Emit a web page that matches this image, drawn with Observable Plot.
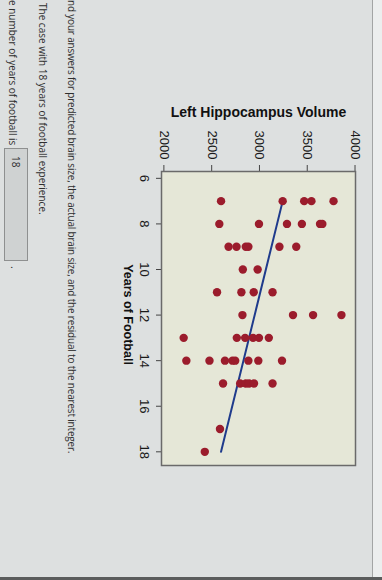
<!DOCTYPE html>
<html>
<head>
<meta charset="utf-8">
<script src="https://cdn.jsdelivr.net/npm/d3@7"></script>
<script src="https://cdn.jsdelivr.net/npm/@observablehq/plot@0.6"></script>
<style>
html, body { margin: 0; padding: 0; width: 382px; height: 580px; overflow: hidden; background: #dde0e0; }
#rot { position: absolute; left: 382px; top: 0; width: 580px; height: 382px; transform-origin: 0 0; transform: rotate(90deg); }
#chart { position: absolute; left: 0; top: 0; }
.q { position: absolute; font-family: "Open Sans", sans-serif; font-size: 10px; line-height: 14px; color: #2e2e2e; white-space: nowrap; }
#edge { position: absolute; left: 0; top: 0; width: 580px; height: 9px; background: #eceeee; border-bottom: 1px solid #a3a5a5; }
#bottomline { position: absolute; left: 577px; top: 0; width: 3px; height: 382px; background: #5a5c5c; }
#box { position: absolute; left: 148px; top: 354px; width: 104px; height: 22px; background: #cfd2d2; border: 1px solid #8e9090; font-family: "Open Sans", sans-serif; font-size: 10px; line-height: 22px; padding-left: 7px; color: #2e2e2e; }
</style>
</head>
<body>
<div id="rot">
  <div id="edge"></div>
  <div id="chart"></div>
  <div class="q" style="left:0px; top:303px; letter-spacing:-0.19px;">nd your answers for predicted brain size, the actual brain size, and the residual to the nearest integer.</div>
  <div class="q" style="left:3px; top:332px;">The case with 18 years of football experience.</div>
  <div class="q" style="left:0px; top:362px;">e number of years of football is</div>
  <div id="box">18</div>
  <div class="q" style="left:266px; top:360px;">.</div>
  <div id="bottomline"></div>
</div>
<script>
const pointYears = [
  7, 7, 7, 7, 7,
  8, 8, 8, 8, 8, 8,
  9, 9, 9, 9, 9, 9,
  10, 10,
  11, 11, 11, 11,
  12, 12, 12, 12,
  13, 13, 13, 13, 13, 13,
  14, 14, 14, 14, 14, 14, 14, 14,
  15, 15, 15, 15, 15, 15,
  17,
  18
];
const pointVolumes = [
  2598, 3243, 3468, 3544, 3775,
  2580, 2995, 3288, 3444, 3634, 3658,
  2677, 2760, 2857, 2884, 3209, 3385,
  2826, 2981,
  2556, 2811, 2940, 3137,
  2822, 3351, 3561, 3858,
  2207, 2763, 2850, 2933, 2995, 3098,
  2235, 2477, 2639, 2718, 2746, 2884, 2988, 3236,
  2619, 2798, 2857, 2891, 2943, 3137,
  2587,
  2428
];
const fitYears = [7, 18];
const fitVolumes = [3243, 2598];
const xTicks = [6, 8, 10, 12, 14, 16, 18];
const yTicks = [2000, 2500, 3000, 3500, 4000];
const xTitle = "Years of Football";
const yTitle = "Left Hippocampus Volume";

const points = pointYears.map((yr, i) => ({year: yr, volume: pointVolumes[i]}));
const fit = fitYears.map((yr, i) => ({year: yr, volume: fitVolumes[i]}));

const chart = Plot.plot({
  width: 580,
  height: 270,
  marginTop: 26,
  marginBottom: 50,
  marginLeft: 171,
  marginRight: 115,
  x: {domain: [5.7, 18.6], label: null},
  y: {domain: [1975, 4005], label: null},
  style: {fontFamily: "'Liberation Sans', Arial, sans-serif", fontSize: "13px", color: "#1a1a1a", background: "transparent", overflow: "visible"},
  marks: [
    Plot.frame({fill: "#e5e7d7", stroke: null}),
    Plot.axisX({ticks: xTicks, tickSize: 6, tickPadding: 6, tickFormat: d => String(d), label: null, fontSize: 13, stroke: "#444"}),
    Plot.axisY({ticks: yTicks, tickSize: 6, tickPadding: 6, tickFormat: d => String(d), label: null, fontSize: 13, stroke: "#444"}),
    Plot.line(fit, {x: "year", y: "volume", stroke: "#1f3b8c", strokeWidth: 2}),
    Plot.dot(points, {x: "year", y: "volume", r: 4.2, fill: "#9b1c2c", stroke: null}),
    Plot.frame({stroke: "#6a6a6a", strokeWidth: 1.5}),
    Plot.text([yTitle], {frameAnchor: "left", rotate: -90, dx: -59, textAnchor: "middle", lineAnchor: "middle", fontWeight: "bold", fontSize: 14, fill: "#111"}),
    Plot.text([xTitle], {frameAnchor: "bottom", dy: 34, dx: -4, textAnchor: "middle", lineAnchor: "middle", fontWeight: "bold", fontSize: 12.5, fill: "#111"})
  ]
});
document.getElementById("chart").appendChild(chart);
</script>
</body>
</html>
